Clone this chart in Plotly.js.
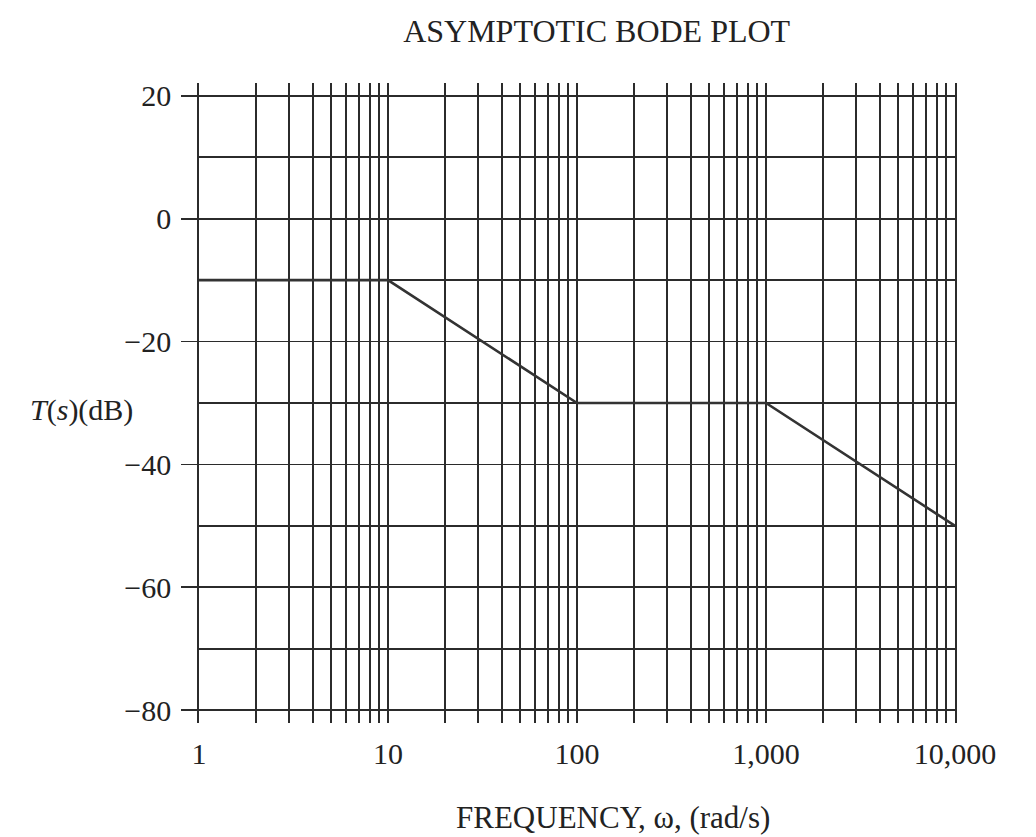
<!DOCTYPE html>
<html><head><meta charset="utf-8">
<script src="https://cdn.plot.ly/plotly-3.0.1.min.js"></script>
<style>html,body{margin:0;padding:0;background:#fff}</style>
</head><body>
<div id="chart" style="width:1036px;height:837px"></div>
<script>
const freq = [1, 10, 100, 1000, 10000];
const gainDb = [-10, -10, -30, -30, -50];
const xTickVals = [1, 10, 100, 1000, 10000];
const xTickText = ['1', '10', '100', '1,000', '10,000'];
const yTickVals = [-80, -60, -40, -20, 0, 20];
const yTickText = ['\u221280', '\u221260', '\u221240', '\u221220', '0', '20'];
const yMinorVals = [-70, -50, -30, -10, 10];

const ink = '#2b2b2b';
const lw = 1.8;
const fam = 'Liberation Serif, Times New Roman, serif';
const font = {family: fam, color: '#222', size: 30};

Plotly.newPlot('chart', [
  {x: freq, y: gainDb, type: 'scatter', mode: 'lines', line: {color: '#333', width: 2.6}, showlegend: false, hoverinfo: 'skip'}
], {
  width: 1036, height: 837,
  margin: {l: 199, r: 81, t: 83, b: 114},
  paper_bgcolor: '#fff', plot_bgcolor: '#fff',
  font: font,
  title: {text: 'ASYMPTOTIC BODE PLOT', x: 0.526, xref: 'paper', xanchor: 'center', y: 0.963, yref: 'container', yanchor: 'middle', font: {family: fam, size: 32, color: '#222'}},
  xaxis: {
    type: 'log', range: [0, 4],
    tickmode: 'array', tickvals: xTickVals, ticktext: xTickText,
    ticks: '', showline: false, zeroline: false,
    showgrid: true, gridcolor: ink, gridwidth: lw,
    ticklabelstandoff: 10,
    minor: {dtick: 'D1', showgrid: true, gridcolor: ink, gridwidth: lw, ticks: ''},
    tickfont: font
  },
  yaxis: {
    range: [-82.1, 22.1],
    tickmode: 'array', tickvals: yTickVals, ticktext: yTickText,
    ticks: 'outside', ticklen: 16, tickwidth: lw, tickcolor: ink,
    showgrid: true, gridcolor: ink, gridwidth: lw,
    showline: true, linecolor: ink, linewidth: lw, mirror: true,
    zeroline: false, ticklabelstandoff: 4,
    minor: {tickmode: 'array', tickvals: yMinorVals, showgrid: true, gridcolor: ink, gridwidth: lw, ticks: ''},
    tickfont: font
  },
  annotations: [
    {text: 'FREQUENCY, \u03c9, (rad/s)', xref: 'paper', yref: 'paper', x: 0.547, y: -0.147, xanchor: 'center', yanchor: 'middle', showarrow: false, font: {family: fam, color: '#222', size: 31}},
    {text: '<i>T</i>(<i>s</i>)(dB)', xref: 'paper', yref: 'paper', x: -0.155, y: 0.489, xanchor: 'center', yanchor: 'middle', showarrow: false, font: font}
  ]
}, {displayModeBar: false, staticPlot: true});
</script>
</body></html>
